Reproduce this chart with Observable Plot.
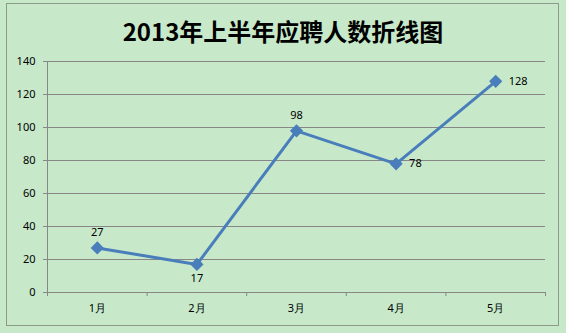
<!DOCTYPE html>
<html><head><meta charset="utf-8">
<script src="https://cdn.jsdelivr.net/npm/d3@7"></script>
<script src="https://cdn.jsdelivr.net/npm/@observablehq/plot@0.6"></script>
<style>
html,body{margin:0;padding:0;background:#c7e9ca;}
#wrap{position:relative;width:566px;height:333px;background:#c7e9ca;overflow:hidden;}
#frame{position:absolute;left:6px;top:3px;width:553px;height:323px;border:1px solid #8c9a8c;box-sizing:border-box;}
#title{position:absolute;left:0;top:15px;width:566px;text-align:center;font-family:"Noto Sans CJK SC",sans-serif;font-weight:bold;font-size:24px;line-height:32px;color:#000;}
#chart{position:absolute;left:0;top:0;}
</style></head>
<body>
<div id="wrap"><div id="frame"></div><div id="title">2013年上半年应聘人数折线图</div><div id="chart"></div></div>
<script>
const months = ["1月","2月","3月","4月","5月"];
const values = [27, 17, 98, 78, 128];
const yTicks = [0, 20, 40, 60, 80, 100, 120, 140];

const data = months.map((m, i) => ({i, m, v: values[i]}));
const boundaries = d3.range(-0.5, months.length, 1);
const above = data.filter(d => d.i === 0 || d.i === 2);
const below = data.filter(d => d.i === 1);
const right = data.filter(d => d.i === 3 || d.i === 4);
const grid = "#878787";
const blue = "#4a7ebb";
const font = "'Noto Sans', sans-serif";

const chart = Plot.plot({
  width: 566, height: 333,
  marginLeft: 47, marginRight: 21, marginTop: 61, marginBottom: 41,
  style: {background: "transparent", fontFamily: font, fontSize: "11px", color: "#000"},
  x: {type: "linear", domain: [-0.5, months.length - 0.5], axis: null},
  y: {domain: [0, 140], axis: null},
  marks: [
    Plot.ruleY(yTicks, {x1: -0.5, x2: months.length - 0.5, stroke: grid, strokeWidth: 1}),
    Plot.ruleX([-0.5], {y1: 0, y2: 140, stroke: grid}),
    Plot.axisY(yTicks, {label: null, tickSize: 4, tickPadding: 8, stroke: grid, fill: "#000", fontSize: 11}),
    Plot.axisX(boundaries, {label: null, tickSize: 4, tickFormat: () => "", stroke: grid}),
    Plot.axisX(d3.range(months.length), {label: null, tickSize: 0, tickPadding: 12, tickFormat: i => months[i], fill: "#000", fontSize: 11}),
    Plot.line(data, {x: "i", y: "v", stroke: blue, strokeWidth: 3}),
    Plot.dot(data, {x: "i", y: "v", symbol: "diamond2", r: 5, fill: blue, stroke: blue}),
    Plot.text(above, {x: "i", y: "v", text: d => String(d.v), dy: -15, fill: "#000", fontSize: 11}),
    Plot.text(below, {x: "i", y: "v", text: d => String(d.v), dy: 14, fill: "#000", fontSize: 11}),
    Plot.text(right, {x: "i", y: "v", text: d => String(d.v), dx: 13, textAnchor: "start", fill: "#000", fontSize: 11})
  ]
});
document.getElementById("chart").appendChild(chart);
</script>
</body></html>
